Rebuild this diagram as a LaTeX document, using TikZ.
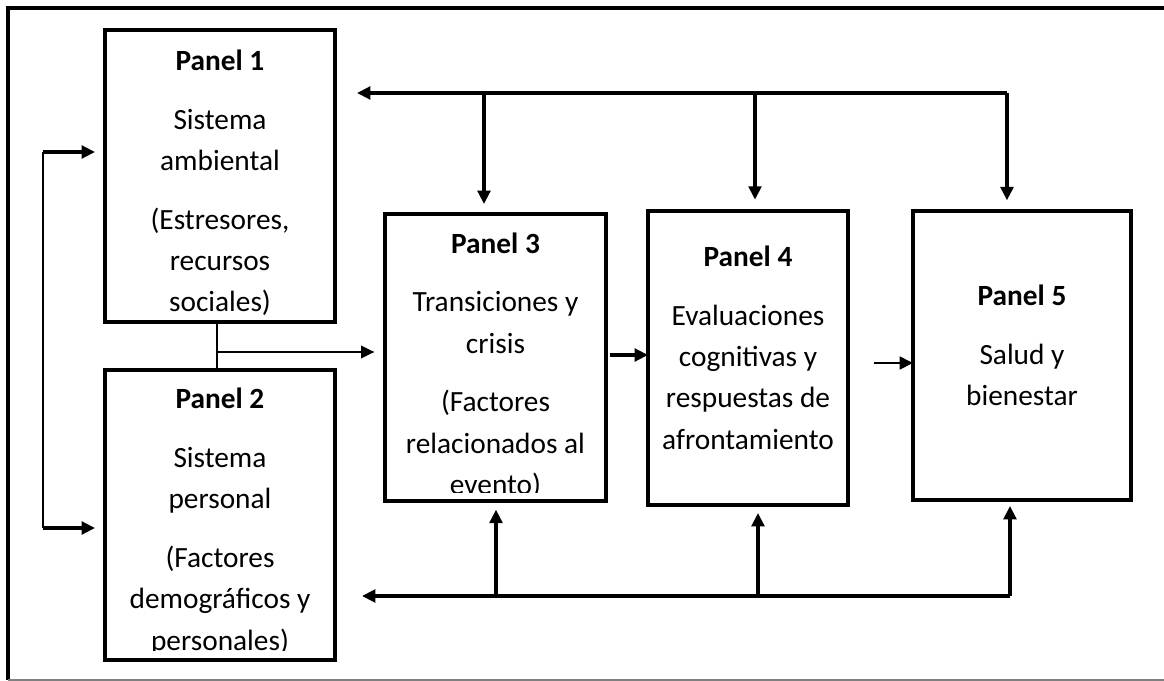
\documentclass[tikz,border=0pt]{standalone}
\usepackage{fontspec}
\setmainfont{Carlito}
\usetikzlibrary{positioning,calc,arrows.meta}

\begin{document}
\begin{tikzpicture}[x=0.75pt, y=-0.75pt, >={Triangle[length=10pt,width=9.5pt]}, panel/.style = {rectangle, draw, line width=2.4pt, inner sep=0pt, outer sep=0pt}, txt/.style = {align=center, inner sep=0pt, outer sep=0pt, font=\fontsize{22}{31}\selectfont}, bus/.style = {line width=2.4pt}, link/.style = {line width=1.2pt}]

\useasboundingbox (0,0) rectangle (1164,681);

% outer frame
\draw[line width=2.4pt] (1164,8) -- (8,8) -- (8,680);
\draw[line width=1.1pt, gray] (8,680) -- (1164,680);

% panels
\node[panel, minimum width=172.5pt, minimum height=219pt] (1) at (220,176) {};
\node[panel, minimum width=172.5pt, minimum height=217.5pt] (2) at (220,515) {};
\node[panel, minimum width=165.75pt, minimum height=215.25pt] (3) at (495.5,357.5) {};
\node[panel, minimum width=150pt, minimum height=220.5pt] (4) at (748,358) {};
\node[panel, minimum width=163.5pt, minimum height=216.75pt] (5) at (1022,355.5) {};

\node[txt] (t1) [below = 15pt of 1.north] {\textbf{Panel 1}\\[13pt] Sistema\\ ambiental\\[13pt] (Estresores,\\ recursos\\ sociales)};

\begin{scope}
\clip (2.north west) rectangle (650,650);
\node[txt] (t2) [below = 13.6pt of 2.north] {\textbf{Panel 2}\\[13pt] Sistema\\ personal\\[13pt] (Factores\\ demográficos y\\ personales)};
\end{scope}

\begin{scope}
\clip (3.north west) rectangle (3.east |- 0,492);
\node[txt] (t3) [below = 14pt of 3.north] {\textbf{Panel 3}\\[13pt] Transiciones y\\ crisis\\[13pt] (Factores\\ relacionados al\\ evento)};
\end{scope}

\node[txt] (t4) [below = 26.2pt of 4.north] {\textbf{Panel 4}\\[13pt] Evaluaciones\\ cognitivas y\\ respuestas de\\ afrontamiento};
\node[txt] (t5) [below = 55.6pt of 5.north] {\textbf{Panel 5}\\[13pt] Salud y\\ bienestar};

% top bus
\coordinate (tl) at (357,93);
\coordinate (d3) at (484,93);
\coordinate (d4) at (755,93);
\coordinate (d5) at (1007,93);
\draw[bus, ->] (d5) -- (tl);
\draw[bus, ->, shorten >=7.5pt] (d3) -- (d3 |- 3.north);
\draw[bus, ->, shorten >=8.5pt] (d4) -- (d4 |- 4.north);
\draw[bus, ->, shorten >=8pt] (d5) -- (d5 |- 5.north);

% bottom bus
\coordinate (bl) at (362,596);
\coordinate (u3) at (496,596);
\coordinate (u4) at (758,596);
\coordinate (u5) at (1010,596);
\draw[bus, ->] (u5) -- (bl);
\draw[bus, ->, shorten >=6.5pt] (u3) -- (u3 |- 3.south);
\draw[bus, ->, shorten >=6pt] (u4) -- (u4 |- 4.south);
\draw[bus, ->, shorten >=4.5pt] (u5) -- (u5 |- 5.south);

% left loop
\coordinate (l1) at (43,152);
\coordinate (l2) at (43,528);
\draw[link] (l1) -- (l2);
\draw[bus, ->, shorten >=7.5pt] (l1) -- (l1 -| 1.west);
\draw[bus, ->, shorten >=7.5pt] (l2) -- (l2 -| 2.west);

% panels 1 and 2 to panel 3
\coordinate (m) at (217,352);
\draw[link] (1.south -| m) -- (2.north -| m);
\draw[link, ->, shorten >=8pt] (m) -- (m -| 3.west);

% chain
\coordinate (a34) at (610,355);
\coordinate (a45) at (874,363);
\draw[bus, ->] (a34) -- (a34 -| 4.west);
\draw[line width=2pt, ->] (a45) -- (a45 -| 5.west);
\end{tikzpicture}
\end{document}
